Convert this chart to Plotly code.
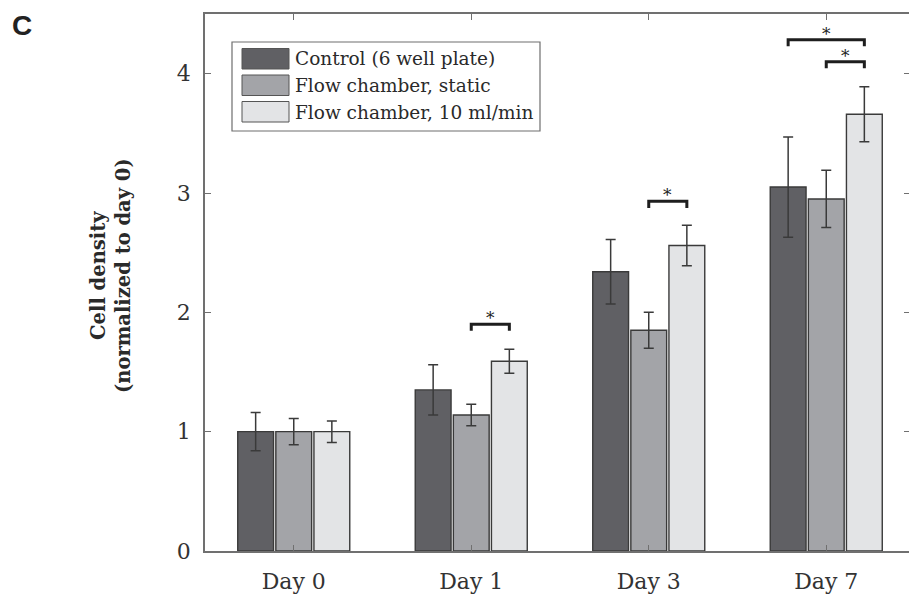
import plotly.graph_objects as go

# ---------------- data ----------------
days = ["Day 0", "Day 1", "Day 3", "Day 7"]
day_pos = [0, 1, 2, 3]
series_names = ["Control (6 well plate)", "Flow chamber, static", "Flow chamber, 10 ml/min"]
control = [1.00, 1.35, 2.34, 3.05]
control_err = [0.16, 0.21, 0.27, 0.42]
static = [1.00, 1.14, 1.85, 2.95]
static_err = [0.11, 0.09, 0.15, 0.24]
flow10 = [1.00, 1.59, 2.56, 3.66]
flow10_err = [0.09, 0.10, 0.17, 0.23]
y_tick_vals = [0, 1, 2, 3, 4]
# significance brackets: day index, series a, series b, bracket height
sig_day = [1, 2, 3, 3]
sig_a = [1, 1, 0, 1]
sig_b = [2, 2, 2, 2]
sig_h = [1.90, 2.93, 4.285, 4.10]

values = [control, static, flow10]
errors = [control_err, static_err, flow10_err]
colors = ["#606064", "#a3a4a8", "#e3e4e6"]

W, H = 909, 598
L, R, T, B = 205, 0, 14, 47
BARGAP = 0.356
BARGROUPGAP = 0.06
SLOT = (1 - BARGAP) / 3

fig = go.Figure()
for k in range(3):
    fig.add_trace(go.Bar(
        x=day_pos, y=values[k], name=series_names[k],
        marker=dict(color=colors[k], line=dict(color="#3a3a3a", width=1.4)),
        error_y=dict(type="data", array=errors[k], color="#3a3a3a", thickness=1.5, width=5),
        showlegend=False,
    ))

# invisible trace for right-side tick axis
fig.add_trace(go.Scatter(x=[day_pos[0]], y=[0], yaxis="y2", mode="markers",
                         marker=dict(opacity=0), showlegend=False, hoverinfo="skip"))

# significance brackets
HOOK = 0.055
for d, a, b, h in zip(sig_day, sig_a, sig_b, sig_h):
    xa = d + (a - 1) * SLOT
    xb = d + (b - 1) * SLOT
    fig.add_trace(go.Scatter(
        x=[xa, xa, xb, xb], y=[h - HOOK, h, h, h - HOOK], mode="lines",
        line=dict(color="#1e1e1e", width=3), showlegend=False, hoverinfo="skip"))
    fig.add_annotation(x=(xa + xb) / 2, y=h, text="*", showarrow=False,
                       yanchor="bottom", yshift=-6,
                       font=dict(family="DejaVu Serif", size=17, color="#222"))

# ------------- manual legend (big swatches) -------------
pw = W - L - R
ph = H - T - B
def px(x):
    return (x - L) / pw
def py(y):
    return (H - B - y) / ph

fig.add_shape(type="rect", xref="paper", yref="paper",
              x0=px(232), x1=px(540), y0=py(131), y1=py(42),
              line=dict(color="#6e6e6e", width=1.2), fillcolor="white", layer="above")
row_top = [48.5, 75.0, 101.5]
for k in range(3):
    y0 = row_top[k]
    fig.add_shape(type="rect", xref="paper", yref="paper",
                  x0=px(242), x1=px(289), y0=py(y0 + 20.5), y1=py(y0),
                  line=dict(color="#555", width=1), fillcolor=colors[k], layer="above")
    fig.add_annotation(xref="paper", yref="paper", x=px(293), y=py(y0 + 10.5),
                       text=series_names[k], showarrow=False, xanchor="left", yanchor="middle",
                       font=dict(family="DejaVu Serif", size=18.5, color="#2a2a2a"))

# y axis title
fig.add_annotation(xref="paper", yref="paper", x=px(111), y=py(276),
                   text="Cell density<br>(normalized to day 0)", showarrow=False,
                   textangle=-90, xanchor="center", yanchor="middle",
                   font=dict(family="DejaVu Serif", size=19.5, color="#2a2a2a", weight="bold"))

# panel letter
fig.add_annotation(xref="paper", yref="paper", x=px(22), y=py(26),
                   text="<b>C</b>", showarrow=False, xanchor="center", yanchor="middle",
                   font=dict(family="Liberation Sans", size=28, color="#222"))

axis_col = "#707070"
fig.update_layout(
    width=W, height=H,
    margin=dict(l=L, r=R, t=T, b=B),
    paper_bgcolor="white", plot_bgcolor="white",
    barmode="group", bargap=BARGAP, bargroupgap=BARGROUPGAP,
    font=dict(family="DejaVu Serif", color="#333"),
    xaxis=dict(range=[-0.5, 3.5 - 6 / 177.5], tickvals=day_pos, ticktext=days,
               showline=True, linecolor=axis_col, linewidth=1.5, mirror="ticks",
               ticks="inside", ticklen=6, tickcolor=axis_col, ticklabelstandoff=10,
               tickfont=dict(family="DejaVu Serif", size=22, color="#333"),
               showgrid=False, zeroline=False, fixedrange=True),
    yaxis=dict(range=[0, 4.5], tickvals=y_tick_vals,
               showline=True, linecolor=axis_col, linewidth=1.5,
               ticks="inside", ticklen=6, tickcolor=axis_col, ticklabelstandoff=8,
               tickfont=dict(family="DejaVu Serif", size=22, color="#333"),
               showgrid=False, zeroline=False, fixedrange=True),
    yaxis2=dict(range=[0, 4.5], tickvals=y_tick_vals, overlaying="y", side="right",
                showline=False, ticks="inside", ticklen=5, tickcolor=axis_col,
                showticklabels=False, showgrid=False, zeroline=False, fixedrange=True),
)

fig.write_html("out.html", config={"displayModeBar": False},
               post_script="document.body.style.margin='0';")
